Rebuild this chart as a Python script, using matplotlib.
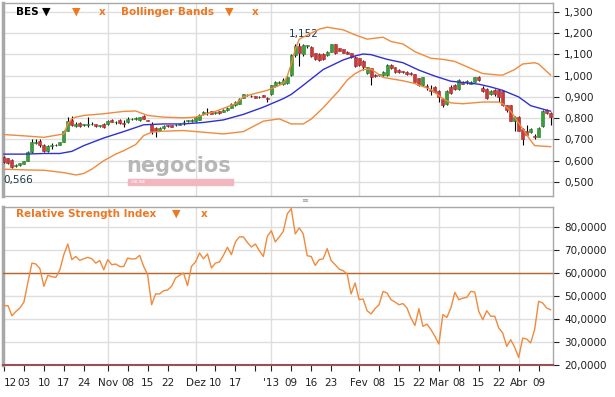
# -*- coding: utf-8 -*-
import numpy as np
import matplotlib.pyplot as plt
from matplotlib.patches import Rectangle
from matplotlib.ticker import FuncFormatter

# daily candles (trading days, Sep-26-2012 .. Apr-12-2013)
opens = [.618, .612, .605, .575, .580, .585, .600, .640, .685, .692,
         .675, .645, .668, .672, .674, .690, .740, .790, .765, .778,
         .768, .770, .772, .772, .765, .773, .773, .791, .780, .790,
         .777, .782, .794, .796, .790, .810, .790, .775, .752, .742,
         .752, .767, .766, .766, .770, .780, .785, .789, .785, .792,
         .818, .831, .833, .824, .832, .829, .837, .849, .860, .868,
         .897, .908, .905, .903, .899, .908, .893, .912, .950, .966,
         .960, .966, 1.003, 1.097, 1.140, 1.100, 1.140, 1.137, 1.105, 1.103,
         1.104, 1.097, 1.113, 1.149, 1.129, 1.124, 1.113, 1.105, 1.089, 1.082,
         1.071, 1.014, 1.034, 1.005, 1.003, 1.003, 1.003, 1.050, 1.039, 1.029,
         1.020, 1.018, 1.015, 1.006, .987, .955, .950, .933, .947, .928,
         .892, .865, .947, .955, .939, .971, .970, .963, .971, .992,
         .943, .936, .912, .935, .935, .928, .860, .860, .789, .808,
         .750, .742, .734, .715, .713, .761, .840, .824]
highs = [.622, .615, .610, .585, .590, .600, .645, .700, .700, .700,
         .678, .672, .682, .678, .690, .745, .805, .810, .780, .780,
         .775, .805, .780, .775, .770, .776, .790, .795, .785, .795,
         .790, .805, .800, .805, .808, .815, .793, .780, .758, .758,
         .768, .770, .770, .772, .778, .790, .792, .795, .810, .818,
         .832, .849, .836, .830, .835, .843, .853, .872, .880, .896,
         .915, .914, .908, .906, .904, .910, .900, .958, .975, .975,
         .987, 1.000, 1.100, 1.148, 1.152, 1.150, 1.145, 1.140, 1.108, 1.106,
         1.107, 1.116, 1.150, 1.150, 1.132, 1.127, 1.116, 1.108, 1.092, 1.085,
         1.075, 1.042, 1.037, 1.010, 1.010, 1.020, 1.055, 1.055, 1.042, 1.032,
         1.024, 1.020, 1.018, 1.009, .990, .995, .963, .955, .950, .931,
         .895, .932, .958, .960, .983, .975, .982, .975, .995, .998,
         .950, .940, .932, .938, .938, .932, .863, .863, .812, .812,
         .755, .770, .755, .726, .760, .838, .845, .830]
lows = [.588, .585, .566, .572, .577, .583, .598, .635, .680, .665,
        .642, .640, .655, .668, .672, .688, .738, .765, .760, .758,
        .762, .760, .768, .760, .760, .756, .770, .780, .775, .775,
        .758, .778, .790, .792, .788, .795, .785, .725, .710, .738,
        .750, .758, .758, .764, .768, .770, .783, .784, .783, .790,
        .815, .813, .818, .820, .822, .827, .835, .846, .857, .866,
        .895, .905, .900, .894, .897, .898, .876, .910, .948, .962,
        .958, .962, 1.000, 1.090, 1.045, 1.095, 1.130, 1.090, 1.074, 1.070,
        1.074, 1.095, 1.110, 1.100, 1.115, 1.105, 1.100, 1.083, 1.040, 1.045,
        1.026, 1.010, .955, .993, 1.000, 1.000, 1.000, 1.030, 1.015, 1.015,
        1.014, 1.004, 1.004, .968, .950, .952, .931, .908, .920, .876,
        .855, .860, .915, .932, .935, .960, .960, .960, .968, .976,
        .924, .889, .908, .903, .876, .856, .829, .785, .742, .738,
        .675, .720, .730, .702, .710, .758, .820, .766]
closes = [.595, .590, .572, .582, .588, .598, .640, .688, .690, .675,
          .645, .668, .676, .675, .690, .740, .785, .768, .775, .762,
          .770, .773, .775, .763, .765, .758, .789, .783, .781, .778,
          .775, .798, .795, .801, .806, .798, .789, .742, .742, .752,
          .765, .762, .760, .768, .775, .781, .790, .792, .805, .813,
          .829, .827, .821, .826, .824, .840, .849, .868, .876, .892,
          .912, .910, .903, .897, .901, .900, .891, .955, .971, .971,
          .978, .995, 1.097, 1.140, 1.105, 1.145, 1.140, 1.093, 1.077, 1.074,
          1.077, 1.113, 1.149, 1.105, 1.118, 1.108, 1.102, 1.086, 1.045, 1.050,
          1.042, 1.039, .995, 1.000, 1.007, 1.018, 1.050, 1.034, 1.018, 1.018,
          1.018, 1.007, 1.007, .971, .955, .992, .945, .930, .923, .900,
          .860, .928, .919, .936, .979, .963, .972, .971, .992, .979,
          .927, .897, .928, .912, .900, .860, .837, .789, .808, .742,
          .702, .723, .750, .712, .755, .833, .824, .805]

# Bollinger bands read at sample days
upper_day = [0, 5, 10, 15, 16, 17, 18, 20, 25, 30, 33, 36, 40, 45, 48, 50, 53, 58,
             60, 62, 66, 70, 71, 72, 73, 74, 79, 81, 85, 88, 91, 95, 97, 100, 103,
             107, 110, 113, 117, 120, 124, 125, 128, 130, 133, 134, 137]
upper_val = [.723, .717, .710, .726, .773, .797, .805, .813, .821, .832, .834, .813,
             .805, .802, .805, .816, .832, .868, .900, .912, .931, .963, .998, 1.055,
             1.124, 1.172, 1.219, 1.228, 1.216, 1.192, 1.172, 1.181, 1.161, 1.149,
             1.113, 1.082, 1.077, 1.067, 1.034, 1.010, 1.003, 1.003, 1.029, 1.055,
             1.061, 1.055, 1.003]
mid_day = [0, 5, 10, 14, 17, 20, 25, 30, 35, 40, 45, 50, 55, 60, 65, 70, 72, 75,
           80, 85, 88, 90, 92, 96, 100, 104, 108, 112, 115, 119, 122, 125, 129,
           132, 135, 137]
mid_val = [.631, .631, .634, .634, .644, .671, .707, .737, .769, .773, .773, .780,
           .792, .818, .852, .892, .912, .955, 1.029, 1.074, 1.093, 1.102, 1.099,
           1.077, 1.061, 1.026, .998, .974, .968, .960, .947, .931, .900, .859,
           .843, .833]
lower_day = [0, 5, 10, 15, 18, 20, 22, 25, 28, 30, 33, 35, 37, 40, 45, 50, 55, 60,
             65, 69, 72, 75, 77, 80, 84, 86, 88, 90, 92, 95, 100, 103, 107, 110,
             112, 115, 120, 124, 125, 127, 130, 132, 133, 137]
lower_val = [.560, .557, .555, .544, .533, .540, .560, .600, .631, .647, .676, .718,
             .734, .739, .742, .734, .726, .737, .786, .797, .773, .773, .796, .849,
             .931, .979, 1.010, 1.029, 1.031, .992, .976, .963, .935, .892, .872,
             .868, .876, .876, .868, .833, .750, .695, .671, .666]

rsi = [45.8, 45.8, 41.4, 43.3, 44.8, 47.4, 56.0, 64.3, 63.9, 61.9,
       54.2, 59.0, 58.4, 58.1, 61.4, 68.0, 72.6, 65.8, 67.2, 65.5,
       66.2, 66.8, 66.2, 64.3, 65.4, 61.4, 65.8, 63.6, 63.9, 62.8,
       62.8, 66.5, 66.1, 66.2, 67.7, 62.9, 59.3, 46.2, 50.9, 50.9,
       52.3, 52.6, 54.2, 57.8, 59.0, 60.0, 54.5, 62.9, 64.8, 68.7,
       66.2, 68.3, 62.2, 64.3, 64.8, 67.7, 71.2, 68.0, 73.5, 75.7,
       75.7, 73.3, 71.3, 72.6, 69.7, 67.2, 75.9, 78.4, 73.5, 75.7,
       78.1, 85.7, 88.0, 77.0, 79.6, 77.0, 67.5, 67.2, 63.3, 65.8,
       66.2, 70.6, 65.4, 63.6, 61.7, 61.0, 59.6, 50.9, 55.7, 48.4,
       48.7, 43.6, 42.2, 44.5, 46.2, 52.0, 51.3, 48.4, 47.4, 46.2,
       46.7, 44.8, 40.4, 37.2, 44.5, 36.8, 37.8, 35.4, 32.5, 29.1,
       41.9, 40.7, 44.8, 51.6, 48.4, 49.1, 49.4, 52.0, 51.7, 43.3,
       39.7, 43.6, 41.2, 41.2, 36.1, 33.9, 28.1, 31.0, 27.7, 23.3,
       31.7, 31.3, 29.6, 35.4, 47.7, 47.0, 44.8, 44.0]

tick_day = [0, 5, 10, 15, 20, 26, 31, 36, 41, 48, 53, 58, 63, 67, 72, 77, 82,
            89, 94, 99, 104, 109, 114, 119, 124, 129, 134]
tick_lab = ["12", "03", "10", "17", "24", "Nov", "08", "15", "22", "Dez", "10", "17",
            "", "'13", "09", "16", "23", "Fev", "08", "15", "22", "Mar", "08", "15",
            "22", "Abr", "09"]
month_day = [26, 48, 67, 89, 109, 129]

orange = '#ee7722'
grid_c = '#dedede'
W, H = 615, 397

def px(x, y):
    return x / W, 1 - y / H

fig = plt.figure(figsize=(6.15, 3.97), dpi=100)
ax1 = fig.add_axes([3 / W, 1 - 196 / H, 550 / W, 193 / H])
ax2 = fig.add_axes([3 / W, 1 - 365 / H, 550 / W, 158 / H])

x = np.arange(len(closes))
o = np.array(opens); c = np.array(closes)
up = c >= o
body_lo = np.minimum(o, c)
body_h = np.maximum(np.abs(c - o), 0.003)

# price panel
ax1.vlines(x, lows, highs, color='black', lw=0.8, zorder=3)
ax1.bar(x[up], body_h[up], bottom=body_lo[up], width=0.75, color='#3aa03a',
        edgecolor='#2a7a2a', lw=0.4, zorder=4)
ax1.bar(x[~up], body_h[~up], bottom=body_lo[~up], width=0.75, color='#cc3a3a',
        edgecolor='#a02828', lw=0.4, zorder=4)
ax1.plot(upper_day, upper_val, color='#f08a3c', lw=1, zorder=5)
ax1.plot(lower_day, lower_val, color='#f08a3c', lw=1, zorder=5)
ax1.plot(mid_day, mid_val, color='#3030d0', lw=1, zorder=5)

ax1.annotate('1,152', (74, 1.152), xytext=(3, 3), textcoords='offset points',
             ha='center', va='bottom', fontsize=7.5, color='#1e3a48')
ax1.annotate('0,566', (-0.1, 0.566), xytext=(0, -5), textcoords='offset points',
             ha='left', va='top', fontsize=7.5, color='#1e3a48')

ax1.set_ylim(0.434, 1.342)
ax1.set_yticks(np.arange(0.5, 1.31, 0.1))
ax1.yaxis.set_major_formatter(FuncFormatter(lambda v, p: f"{v:.3f}".replace('.', ',')))

# RSI panel
ax2.plot(x, rsi, color='#f08a3c', lw=1, zorder=4)
ax2.axhline(60, color='#b8662c', lw=1, zorder=3)
ax2.set_ylim(20, 88.7)
ax2.set_yticks(np.arange(20, 81, 10))
ax2.yaxis.set_major_formatter(FuncFormatter(lambda v, p: f"{v:.4f}".replace('.', ',')))
ax2.set_xticks(tick_day)
ax2.set_xticklabels(tick_lab)
ax2.tick_params(axis='x', direction='out', length=4, pad=5, labelsize=7.5,
                colors='#222222')
first = ax2.get_xticklabels()[0]
first.set_horizontalalignment('left')

for ax in (ax1, ax2):
    ax.set_xlim(-0.25, 137.6)
    ax.yaxis.tick_right()
    ax.tick_params(axis='y', direction='out', length=4, pad=4, labelsize=7.5,
                   colors='#222222')
    ax.grid(axis='y', color=grid_c, lw=1, zorder=0)
    for d in month_day:
        ax.axvline(d, color=grid_c, lw=1, zorder=0)
    for s in ax.spines.values():
        s.set_color('#a8a8a8')
        s.set_linewidth(1)
    ax.spines['left'].set_linewidth(2.5)
    ax.set_axisbelow(True)

ax1.tick_params(axis='x', bottom=False, labelbottom=False)
ax2.spines['bottom'].set_color('#9a5050')
ax2.spines['bottom'].set_linewidth(1.5)

# legend texts
fig.text(*px(16, 12), 'BES', fontsize=7.5, fontweight='bold', color='black', va='center')
fig.text(*px(42, 12), '▼', fontsize=8, color='black', va='center')
fig.text(*px(72, 12), '▼', fontsize=8, color=orange, va='center')
fig.text(*px(99, 12), 'x', fontsize=7.5, fontweight='bold', color=orange, va='center')
fig.text(*px(121, 12), 'Bollinger Bands', fontsize=7.5, fontweight='bold', color=orange, va='center')
fig.text(*px(225, 12), '▼', fontsize=8, color=orange, va='center')
fig.text(*px(252, 12), 'x', fontsize=7.5, fontweight='bold', color=orange, va='center')

fig.text(*px(16, 214), 'Relative Strength Index', fontsize=7.5, fontweight='bold',
         color=orange, va='center')
fig.text(*px(172, 214), '▼', fontsize=8, color=orange, va='center')
fig.text(*px(201, 214), 'x', fontsize=7.5, fontweight='bold', color=orange, va='center')

# watermark
fig.text(*px(126, 166), 'negocios', fontsize=15, fontweight='bold', color='#b0b0b0',
         va='center', alpha=0.9)
fig.patches.append(Rectangle(px(128, 185), 105 / W, 6 / H, transform=fig.transFigure,
                             color='#f2b6be', zorder=0))
fig.text(*px(131, 182), 'ONLINE', fontsize=3, color='white', va='center')
fig.text(*px(305, 201), '≡', fontsize=6, color='#999999', ha='center', va='center')

fig.savefig('out.png', dpi=100)
